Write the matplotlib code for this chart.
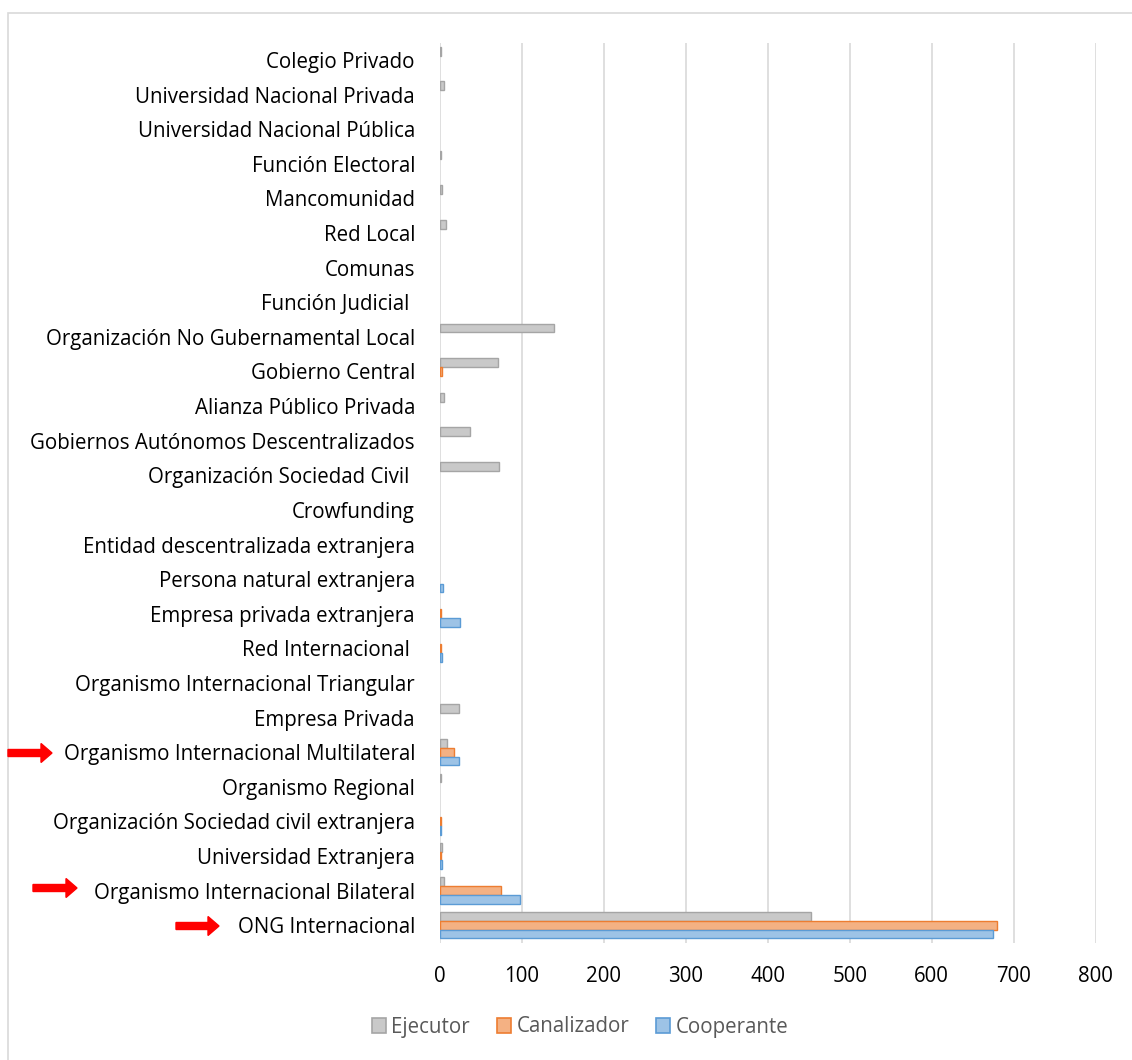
import numpy as np
import matplotlib
matplotlib.use("Agg")
import matplotlib.pyplot as plt
from matplotlib.patches import FancyArrow, Rectangle, Patch
from matplotlib.transforms import IdentityTransform

categories = [
    "Colegio Privado",
    "Universidad Nacional Privada",
    "Universidad Nacional Pública",
    "Función Electoral",
    "Mancomunidad",
    "Red Local",
    "Comunas",
    "Función Judicial ",
    "Organización No Gubernamental Local",
    "Gobierno Central",
    "Alianza Público Privada",
    "Gobiernos Autónomos Descentralizados",
    "Organización Sociedad Civil ",
    "Crowfunding",
    "Entidad descentralizada extranjera",
    "Persona natural extranjera",
    "Empresa privada extranjera",
    "Red Internacional ",
    "Organismo Internacional Triangular",
    "Empresa Privada",
    "Organismo Internacional Multilateral",
    "Organismo Regional",
    "Organización Sociedad civil extranjera",
    "Universidad Extranjera",
    "Organismo Internacional Bilateral",
    "ONG Internacional",
]

ejecutor    = [1, 5, 0, 1, 2, 7, 0, 0, 139, 71, 5, 37, 72, 0, 0, 0, 0, 0, 0, 23, 9, 1, 0, 2, 5, 453]
canalizador = [0, 0, 0, 0, 0, 0, 0, 0, 0, 3, 0, 0, 0, 0, 0, 0, 1, 1, 0, 0, 17, 0, 1, 1, 74, 680]
cooperante  = [0, 0, 0, 0, 0, 0, 0, 0, 0, 0, 0, 0, 0, 0, 0, 4, 24, 3, 0, 0, 23, 0, 1, 2, 98, 675]
series_names = ["Ejecutor", "Canalizador", "Cooperante"]
xticks = [0, 100, 200, 300, 400, 500, 600, 700, 800]
arrow_labels = ["Organismo Internacional Multilateral", "Organismo Internacional Bilateral", "ONG Internacional"]

W, H = 1132, 1060
fig = plt.figure(figsize=(W / 100, H / 100), dpi=100)
fig.patch.set_facecolor("white")

ax_left, ax_right, ax_top, ax_bot = 440, 1095.7, 42.7, 942.5
ax = fig.add_axes([ax_left / W, 1 - ax_bot / H, (ax_right - ax_left) / W, (ax_bot - ax_top) / H])

font = "Open Sans"
fs = 14.8
n = len(categories)
y = np.arange(n)
h = 0.255
fills = ["#C9C9C9", "#F4B183", "#9DC3E6"]
edges = ["#A5A5A5", "#ED7D31", "#5B9BD5"]
data = [ejecutor, canalizador, cooperante]
offsets = [-h, 0, h]
for vals, off, fc, ec in zip(data, offsets, fills, edges):
    v = np.asarray(vals, dtype=float)
    m = v > 0
    ax.barh(y[m] + off, v[m], height=h, color=fc, edgecolor=ec, linewidth=1.0, zorder=3)

ax.set_ylim(n - 0.5, -0.5)
ax.set_xlim(0, 800)
ax.set_xticks(xticks)
ax.set_xticklabels([str(t) for t in xticks], fontsize=fs, family=font, color="#000000")
ax.set_yticks(y)
ax.set_yticklabels(categories, fontsize=fs, family=font, color="#000000")
ax.tick_params(axis="both", length=0)
ax.tick_params(axis="y", pad=18)
ax.tick_params(axis="x", pad=17)
for s in ax.spines.values():
    s.set_visible(False)
ax.grid(axis="x", color="#D9D9D9", linewidth=1.2, zorder=0)
ax.set_axisbelow(True)

# chart area border
fig.add_artist(Rectangle((8 / W, -0.02), 1.1, 1 - 13 / H + 0.02, transform=fig.transFigure,
                         fill=False, edgecolor="#D9D9D9", linewidth=1.2))

# red arrows
arrow_px = {
    "Organismo Internacional Multilateral": (8, 52, 753),
    "Organismo Internacional Bilateral": (33, 77, 888),
    "ONG Internacional": (176, 219, 926),
}
for lab in arrow_labels:
    x0, x1, yy = arrow_px[lab]
    fig.add_artist(FancyArrow(x0, H - yy, x1 - x0, 0, width=7, head_width=19, head_length=11,
                              length_includes_head=True, color="#FF0000", transform=IdentityTransform()))

handles = [Patch(facecolor=fc, edgecolor=ec, linewidth=1.2) for fc, ec in zip(fills, edges)]
leg = fig.legend(handles, series_names, loc="center", bbox_to_anchor=(580 / W, 1 - 1027 / H),
                 ncol=3, frameon=False, handlelength=0.7, handleheight=0.7, handletextpad=0.25,
                 columnspacing=1.3, prop={"family": font, "size": fs})
for t in leg.get_texts():
    t.set_color("#595959")

fig.savefig("out.png", dpi=100)
